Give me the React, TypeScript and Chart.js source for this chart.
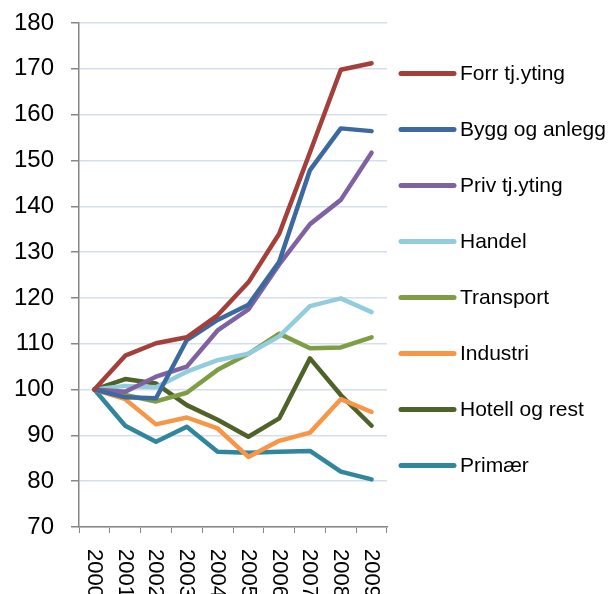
import React, { useEffect, useRef } from 'react';
import { Chart, registerables } from 'chart.js';

Chart.register(...registerables);

const years = ['2000', '2001', '2002', '2003', '2004', '2005', '2006', '2007', '2008', '2009'];

const forrTjYting = [100, 107.4, 110.1, 111.4, 116.2, 123.4, 134.0, 151.8, 169.8, 171.2];
const byggOgAnlegg = [100, 98.3, 98.1, 110.8, 115.2, 118.5, 127.9, 147.9, 157.0, 156.4];
const privTjYting = [100, 99.5, 102.8, 105.0, 112.9, 117.5, 127.3, 136.1, 141.4, 151.7];
const handel = [100, 100.8, 100.5, 103.9, 106.4, 107.8, 111.6, 118.2, 119.9, 116.9];
const transport = [100, 98.8, 97.4, 99.3, 104.3, 107.8, 112.2, 109.0, 109.2, 111.4];
const industri = [100, 97.9, 92.4, 93.9, 91.5, 85.3, 88.8, 90.6, 97.9, 95.1];
const hotellOgRest = [100, 102.3, 101.3, 96.6, 93.4, 89.7, 93.7, 106.8, 98.8, 92.1];
const primaer = [100, 92.1, 88.6, 91.9, 86.4, 86.2, 86.4, 86.6, 82.1, 80.4];

const seriesNames = ['Forr tj.yting', 'Bygg og anlegg', 'Priv tj.yting', 'Handel', 'Transport', 'Industri', 'Hotell og rest', 'Primær'];
const seriesValues = [forrTjYting, byggOgAnlegg, privTjYting, handel, transport, industri, hotellOgRest, primaer];
const seriesColors = ['#A3403C', '#3C6A9F', '#7F62A1', '#93CDDD', '#7E9D45', '#F79646', '#4F6228', '#31859C'];

const yMin = 70;
const yMax = 180;
const yStep = 10;

const FONT = '"Liberation Sans", Arial, sans-serif';

const xLabelPlugin = {
  id: 'xLabelPlugin',
  afterDraw(chart: any) {
    const ctx = chart.ctx;
    const xs = chart.scales.x;
    ctx.save();
    ctx.font = `22px ${FONT}`;
    ctx.fillStyle = '#000000';
    ctx.textAlign = 'left';
    ctx.textBaseline = 'middle';
    chart.data.labels.forEach((lab: string, i: number) => {
      const x = xs.getPixelForValue(i);
      ctx.save();
      ctx.translate(x - 0.5, xs.top + 22);
      ctx.rotate(Math.PI / 2);
      ctx.fillText(lab, 0, 0);
      ctx.restore();
    });
    ctx.restore();
  },
};

const legendPlugin = {
  id: 'customLegend',
  afterDraw(chart: any) {
    const ctx = chart.ctx;
    ctx.save();
    ctx.font = `21px ${FONT}`;
    ctx.textAlign = 'left';
    ctx.textBaseline = 'middle';
    chart.data.datasets.forEach((ds: any, i: number) => {
      const y = 73.5 + i * 56;
      ctx.beginPath();
      ctx.strokeStyle = ds.borderColor;
      ctx.lineWidth = 5;
      ctx.lineCap = 'round';
      ctx.moveTo(401, y);
      ctx.lineTo(454, y);
      ctx.stroke();
      ctx.fillStyle = '#000000';
      ctx.fillText(ds.label, 460, y + 1);
    });
    ctx.restore();
  },
};

export default function App() {
  const ref = useRef<HTMLCanvasElement>(null);

  useEffect(() => {
    if (!ref.current) return;
    const chart = new Chart(ref.current, {
      type: 'line',
      data: {
        labels: years,
        datasets: seriesNames.map((name, i) => ({
          label: name,
          data: seriesValues[i],
          borderColor: seriesColors[i],
          backgroundColor: seriesColors[i],
          borderWidth: 4.5,
          pointRadius: 0,
          pointHoverRadius: 0,
          tension: 0,
          borderJoinStyle: 'round' as const,
          borderCapStyle: 'round' as const,
          fill: false,
        })),
      },
      options: {
        responsive: false,
        animation: false,
        devicePixelRatio: 1,
        layout: { padding: { left: 0, top: 23, right: 221, bottom: 0 } },
        plugins: {
          legend: { display: false },
          tooltip: { enabled: false },
        },
        scales: {
          x: {
            type: 'category',
            offset: true,
            grid: {
              display: true,
              drawOnChartArea: false,
              drawTicks: true,
              tickLength: 6,
              offset: true,
              tickColor: '#868686',
              color: '#868686',
            },
            border: { display: true, color: '#868686', width: 1.5 },
            ticks: { display: false },
            afterFit: (scale: any) => {
              scale.height = 594 - 527;
              scale.paddingLeft = 0;
              scale.paddingRight = 0;
            },
          },
          y: {
            min: yMin,
            max: yMax,
            ticks: {
              stepSize: yStep,
              color: '#000000',
              font: { family: FONT, size: 24 },
              padding: 17,
            },
            grid: {
              color: '#D5DFEC',
              lineWidth: 1.5,
              tickColor: '#868686',
              tickLength: 8,
              drawTicks: true,
            },
            border: { display: true, color: '#868686', width: 1.5 },
            afterFit: (scale: any) => {
              scale.width = 79;
              scale.paddingTop = 0;
              scale.paddingBottom = 0;
            },
          },
        },
      },
      plugins: [xLabelPlugin, legendPlugin],
    });
    return () => chart.destroy();
  }, []);

  return (
    <div style={{ position: 'absolute', left: 0, top: 0, width: 608, height: 594, background: '#ffffff' }}>
      <canvas ref={ref} width={608} height={594} />
    </div>
  );
}
